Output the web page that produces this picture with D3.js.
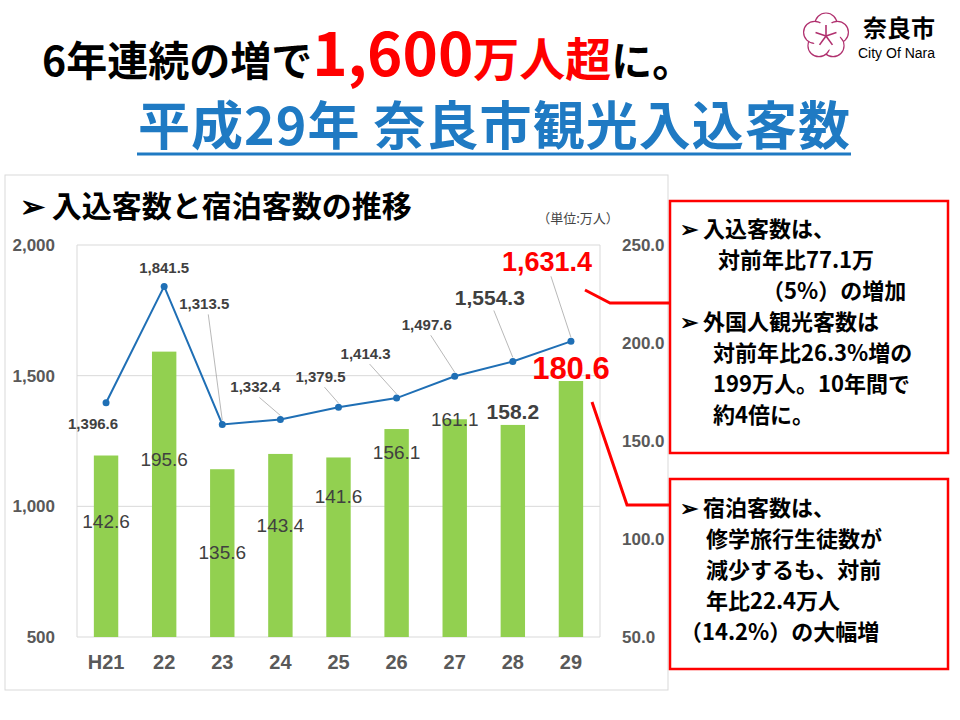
<!DOCTYPE html>
<html><head><meta charset="utf-8">
<script src="https://cdn.jsdelivr.net/npm/d3@7"></script>
<style>body{margin:0;background:#fff}svg{font-family:"Noto Sans CJK JP","Noto Sans",sans-serif}</style>
</head><body><svg id="c" width="960" height="720"></svg>
<script>
const years = ["H21","22","23","24","25","26","27","28","29"];
const visitors = [1396.6,1841.5,1313.5,1332.4,1379.5,1414.3,1497.6,1554.3,1631.4];
const stays = [142.6,195.6,135.6,143.4,141.6,156.1,161.1,158.2,180.6];
const leftTicks = [500,1000,1500,2000];
const rightTicks = [50,100,150,200,250];
// label offsets [dx, dy] from the point (line) or bar top (bars)
const lineLabelOff = [[-13,26],[0,-13],[-18,-115],[-25,-27],[-18,-25],[-31,-39],[-28,-46],[-23,-56],[-24,-70]];
const barLabelOff = [72,114,90,78,46,30,7,-6,-2];

const svg = d3.select("#c");
const pL = 77, pR = 600, pT = 245, pB = 637;
const x = d3.scaleBand().domain(years).range([pL,pR]).paddingInner(0.58).paddingOuter(0.29);
const yL = d3.scaleLinear().domain([500,2000]).range([pB,pT]);
const yR = d3.scaleLinear().domain([50,250]).range([pB,pT]);
const narrow = "Liberation Sans Narrow, Liberation Sans";

// Title
const t1 = svg.append("text").attr("x",42).attr("y",76).attr("font-weight",700);
t1.append("tspan").attr("font-size",41).text("6年連続の増で");
t1.append("tspan").attr("font-size",60).attr("fill","#ff0000").text("1,600");
t1.append("tspan").attr("font-size",46).attr("fill","#ff0000").text("万人超");
t1.append("tspan").attr("font-size",41).text("に。");
svg.append("text").attr("x",494).attr("y",145).attr("text-anchor","middle").attr("font-size",52)
  .attr("font-weight",700).attr("fill","#1f7ac3").attr("textLength",712).text("平成29年 奈良市観光入込客数");
svg.append("line").attr("x1",137).attr("x2",851).attr("y1",154).attr("y2",154).attr("stroke","#1f7ac3").attr("stroke-width",3);

// Logo
const lg = svg.append("g").attr("transform","translate(826,36)");
const petal = d3.range(5).map(i => i*72 - 90);
petal.forEach(a => {
  const r = a*Math.PI/180;
  lg.append("circle").attr("cx",12*Math.cos(r)).attr("cy",12*Math.sin(r)).attr("r",11)
    .attr("fill","#fff").attr("stroke","#b0306e").attr("stroke-width",1.2);
});
lg.append("circle").attr("r",14).attr("fill","#fff");
petal.forEach(a => {
  const r = a*Math.PI/180;
  lg.append("line").attr("x2",11*Math.cos(r)).attr("y2",11*Math.sin(r)).attr("stroke","#b0306e").attr("stroke-width",1.6);
});
svg.append("text").attr("x",863).attr("y",37).attr("font-size",24).attr("font-weight",700).text("奈良市");
svg.append("text").attr("x",858).attr("y",58).attr("font-size",14).attr("font-family","Liberation Sans").text("City Of Nara");

// Chart frame
svg.append("rect").attr("x",5).attr("y",175).attr("width",663).attr("height",515).attr("fill","none").attr("stroke","#d9d9d9");
svg.append("text").attr("x",20).attr("y",217).attr("font-size",30).attr("font-weight",700).text("➢ 入込客数と宿泊客数の推移");
svg.append("text").attr("x",578).attr("y",223).attr("font-size",13).attr("fill","#444").attr("text-anchor","middle").text("（単位:万人）");

// Grid
svg.append("g").selectAll("line").data(leftTicks).join("line")
  .attr("x1",pL).attr("x2",pR).attr("y1",d=>yL(d)).attr("y2",d=>yL(d)).attr("stroke","#d9d9d9");
svg.append("line").attr("x1",pL).attr("x2",pL).attr("y1",pT).attr("y2",pB).attr("stroke","#d9d9d9");
svg.append("line").attr("x1",pR).attr("x2",pR).attr("y1",pT).attr("y2",pB).attr("stroke","#d9d9d9");

// Axes
const axL = svg.append("g").attr("transform",`translate(${pL},0)`).call(d3.axisLeft(yL).tickValues(leftTicks).tickFormat(d3.format(",")).tickSize(0).tickPadding(22));
const axR = svg.append("g").attr("transform",`translate(${pR},0)`).call(d3.axisRight(yR).tickValues(rightTicks).tickFormat(d3.format(".1f")).tickSize(0).tickPadding(22));
const axB = svg.append("g").attr("transform",`translate(0,${pB})`).call(d3.axisBottom(x).tickSize(0).tickPadding(18));
[axL,axR,axB].forEach(a => { a.select(".domain").remove(); a.selectAll("text").attr("fill","#595959").attr("font-weight",700).attr("font-family",narrow).attr("font-size",17); });
axB.selectAll("text").attr("font-size",20);

// Bars
svg.append("g").selectAll("rect").data(stays).join("rect")
  .attr("x",(d,i)=>x(years[i])).attr("width",x.bandwidth())
  .attr("y",d=>yR(d)).attr("height",d=>pB-yR(d)).attr("fill","#92d050");

// Bar labels
svg.append("g").selectAll("text").data(stays).join("text")
  .attr("x",(d,i)=>x(years[i])+x.bandwidth()/2)
  .attr("y",(d,i)=>yR(d)+barLabelOff[i])
  .attr("text-anchor","middle")
  .attr("font-family",narrow)
  .attr("font-size",(d,i)=>i===8?31:i===7?21:19)
  .attr("font-weight",(d,i)=>i>=7?700:400)
  .attr("fill",(d,i)=>i===8?"#ff0000":"#404040")
  .text(d=>d.toFixed(1));

// Line
const cx = i => x(years[i])+x.bandwidth()/2;
svg.append("path").datum(visitors).attr("fill","none").attr("stroke","#1f6fb5").attr("stroke-width",2)
  .attr("d",d3.line().x((d,i)=>cx(i)).y(d=>yL(d)));
svg.append("g").selectAll("circle").data(visitors).join("circle")
  .attr("cx",(d,i)=>cx(i)).attr("cy",d=>yL(d)).attr("r",3.5).attr("fill","#1f6fb5");

const lx = i => cx(i)+lineLabelOff[i][0];
const ly = i => yL(visitors[i])+lineLabelOff[i][1];

// Leader lines
svg.append("g").selectAll("line").data(d3.range(2,9)).join("line")
  .attr("x1",i=>cx(i)).attr("y1",i=>yL(visitors[i])-4)
  .attr("x2",i=>lx(i)+4).attr("y2",i=>ly(i)+5)
  .attr("stroke","#a6a6a6").attr("stroke-width",0.8);

svg.append("g").selectAll("text").data(visitors).join("text")
  .attr("x",(d,i)=>lx(i))
  .attr("y",(d,i)=>ly(i))
  .attr("text-anchor","middle")
  .attr("font-family",narrow)
  .attr("font-weight",700)
  .attr("font-size",(d,i)=>i===8?27:i===7?21:15)
  .attr("fill",(d,i)=>i===8?"#ff0000":"#404040")
  .text(d=>d3.format(",.1f")(d));

// Connectors
const red = "#ff0000";
svg.append("path").attr("d","M585,290 L610,303 L670,303").attr("fill","none").attr("stroke",red).attr("stroke-width",3);
svg.append("path").attr("d","M592,402 L627,505 L670,505").attr("fill","none").attr("stroke",red).attr("stroke-width",3);

// Boxes
svg.append("rect").attr("x",670).attr("y",201).attr("width",278).attr("height",252).attr("fill","#fff").attr("stroke",red).attr("stroke-width",2.5);
svg.append("rect").attr("x",670).attr("y",479).attr("width",278).attr("height",190).attr("fill","#fff").attr("stroke",red).attr("stroke-width",2.5);
const box1 = [[680,"➢  入込客数は、"],[718,"対前年比77.1万"],[762,"（5%）の増加"],[680,"➢  外国人観光客数は"],[713,"対前年比26.3%増の"],[713,"199万人。10年間で"],[713,"約4倍に。"]];
box1.forEach((d,i)=>svg.append("text").attr("x",d[0]).attr("y",237+i*31).attr("font-size",22).attr("font-weight",700).text(d[1]));
const box2 = [[680,"➢  宿泊客数は、"],[706,"修学旅行生徒数が"],[706,"減少するも、対前"],[706,"年比22.4万人"],[680,"（14.2%）の大幅増"]];
box2.forEach((d,i)=>svg.append("text").attr("x",d[0]).attr("y",516+i*31).attr("font-size",22).attr("font-weight",700).text(d[1]));
</script></body></html>
